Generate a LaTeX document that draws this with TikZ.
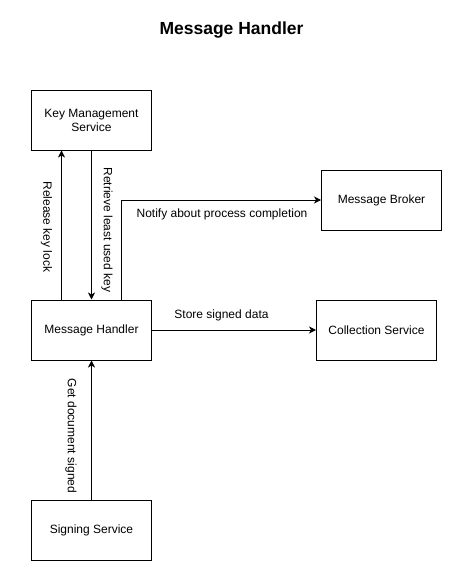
\documentclass[tikz,border=0pt]{standalone}
\usepackage{fontspec}
\setmainfont{Liberation Sans}
\usetikzlibrary{arrows.meta}
\begin{document}
\begin{tikzpicture}[x=1pt,y=-1pt,
  box/.style={draw=black,line width=1pt,fill=white,minimum width=120pt,minimum height=60pt,inner sep=0pt,align=center,font=\fontsize{12pt}{14pt}\selectfont},
  conn/.style={draw=black,line width=1pt,-{Stealth[length=7pt,width=7pt,inset=2pt]}},
  lbl/.style={font=\fontsize{12pt}{14pt}\selectfont,inner sep=0pt}]
\path[fill=white] (0,0) rectangle (471,586);
\useasboundingbox (0,0) rectangle (471,586);
\node[font=\bfseries\fontsize{17.5pt}{20pt}\selectfont] (title) at (231.5,30) {Message Handler};
\node[box] (kms) at (91.5,120) {Key Management\\Service};
\node[box] (mb) at (381.5,200) {Message Broker};
\node[box] (mh) at (91.5,330) {Message Handler};
\node[box] (cs) at (376.5,330) {Collection Service};
\node[box] (ss) at (91.5,530) {Signing Service};
\coordinate (nc) at (121.5,200);
\draw[conn] (mh.north -| 61.5,0) -- (kms.south -| 61.5,0);
\draw[conn] (kms.south -| 91.5,0) -- (mh.north -| 91.5,0);
\draw[conn] (mh.north -| nc) -- (nc) -- (mb.west);
\draw[conn] (mh.east) -- (cs.west);
\draw[conn] (ss.north) -- (mh.south);
\node[lbl,rotate=-90] (l1) at (46.5,227) {Release key lock};
\node[lbl,rotate=-90] (l2) at (107,230) {Retrieve least used key};
\node[lbl] (l3) at (222,214.5) {Notify about process completion};
\node[lbl] (l4) at (221.5,315) {Store signed data};
\node[lbl,rotate=-90] (l5) at (71,436) {Get document signed};
\end{tikzpicture}
\end{document}
